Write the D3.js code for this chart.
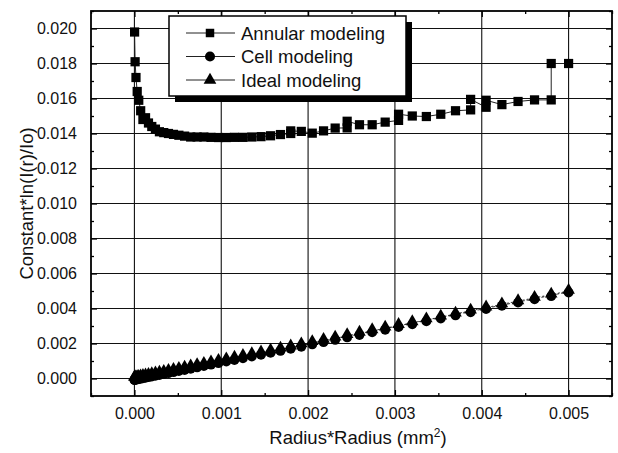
<!DOCTYPE html>
<html>
<head>
<meta charset="utf-8">
<script src="https://cdn.jsdelivr.net/npm/d3@7"></script>
<style>
body { margin: 0; background: #fff; }
svg { font-family: Arial, "Liberation Sans", sans-serif; }
</style>
</head>
<body>
<div id="chart"></div>
<script>
var width = 618
var height = 453
var margin = {left: 91, right: 6, top: 11, bottom: 57}

// radius^2 positions shared by the cell and ideal series
var radius2 = [0, 0.000002, 0.000008, 0.000018, 0.000032, 0.00005, 0.000072, 0.000098, 0.000128, 0.000162,
	0.0002, 0.000242, 0.000288, 0.000338, 0.000392, 0.00045, 0.000512, 0.000578, 0.000648, 0.000722,
	0.0008, 0.000882, 0.000968, 0.001058, 0.001152, 0.00125, 0.001352, 0.001458, 0.001568, 0.001682,
	0.0018, 0.001922, 0.002048, 0.002178, 0.002312, 0.00245, 0.002592, 0.002738, 0.002888, 0.003042,
	0.0032, 0.003362, 0.003528, 0.003698, 0.003872, 0.00405, 0.004232, 0.004418, 0.004608, 0.0048, 0.005]
var idealVals = [0, 0.000002, 0.000008, 0.000018, 0.000032, 0.00005, 0.000071, 0.000097, 0.000127, 0.00016,
	0.000198, 0.00024, 0.000285, 0.000335, 0.000388, 0.000446, 0.000507, 0.000572, 0.000641, 0.000715,
	0.000792, 0.000873, 0.000958, 0.00105, 0.00114, 0.00124, 0.00134, 0.00144, 0.00155, 0.00166,
	0.00178, 0.0019, 0.00203, 0.00216, 0.00229, 0.00243, 0.00257, 0.00271, 0.00286, 0.00301,
	0.00317, 0.00333, 0.00349, 0.00366, 0.00383, 0.00401, 0.00419, 0.00437, 0.00456, 0.00475, 0.00496]
var cellVals = [0, 0.000002, 0.000008, 0.000018, 0.000032, 0.00005, 0.000071, 0.000097, 0.000127, 0.00016,
	0.000198, 0.00024, 0.000285, 0.000335, 0.000388, 0.000446, 0.000507, 0.000572, 0.000641, 0.000715,
	0.000792, 0.000873, 0.000958, 0.00105, 0.00114, 0.00124, 0.00134, 0.00144, 0.00155, 0.00166,
	0.00178, 0.0019, 0.00203, 0.00216, 0.00229, 0.00243, 0.00257, 0.00272, 0.00287, 0.00302,
	0.00318, 0.00335, 0.00351, 0.00369, 0.00387, 0.00405, 0.00424, 0.00442, 0.00461, 0.00479, 0.005]

// annular series has repeated x where the curve steps
var annularX = [0.000002, 0.000008, 0.000018, 0.000032, 0.00005, 0.000072, 0.000098, 0.000128, 0.000162,
	0.0002, 0.000242, 0.000288, 0.000338, 0.000392, 0.00045, 0.000512, 0.000578, 0.000648, 0.000722,
	0.0008, 0.000882, 0.000968, 0.001058, 0.001152, 0.00125, 0.001352, 0.001458, 0.001568, 0.001682,
	0.0018, 0.0018, 0.001922, 0.002048, 0.002178, 0.002312, 0.00245, 0.00245, 0.002592, 0.002738, 0.002888,
	0.003042, 0.003042, 0.0032, 0.003362, 0.003528, 0.003698, 0.003872, 0.003872, 0.00405, 0.00405,
	0.004232, 0.004418, 0.004608, 0.0048, 0.0048, 0.005]
var annularY = [0.0198, 0.0181, 0.0172, 0.0164, 0.0159, 0.0153, 0.0148, 0.0149, 0.0146,
	0.0144, 0.01425, 0.0141, 0.01405, 0.014, 0.01395, 0.0139, 0.01385, 0.0138, 0.0138,
	0.0138, 0.01378, 0.01377, 0.01377, 0.01378, 0.01378, 0.0138, 0.01382, 0.01387, 0.01394,
	0.014, 0.01415, 0.01412, 0.01402, 0.01415, 0.01431, 0.01432, 0.0147, 0.0145, 0.0145, 0.01465,
	0.01475, 0.0151, 0.015, 0.01497, 0.0151, 0.0153, 0.01535, 0.01595, 0.0155, 0.0159,
	0.01565, 0.01583, 0.01592, 0.01592, 0.0180, 0.0180]

var xTicks = [0, 0.001, 0.002, 0.003, 0.004, 0.005]
var yTicks = [0, 0.002, 0.004, 0.006, 0.008, 0.010, 0.012, 0.014, 0.016, 0.018, 0.020]
var xMinor = [-0.0005, 0.0005, 0.0015, 0.0025, 0.0035, 0.0045, 0.0055]
var yMinor = [-0.001, 0.001, 0.003, 0.005, 0.007, 0.009, 0.011, 0.013, 0.015, 0.017, 0.019, 0.021]
var seriesNames = ["Annular modeling", "Cell modeling", "Ideal modeling"]

var svg = d3.select("#chart").append("svg")
	.attr("width", width)
	.attr("height", height)

var x = d3.scaleLinear().domain([-0.0005, 0.0055]).range([margin.left, width - margin.right])
var y = d3.scaleLinear().domain([-0.001, 0.021]).range([height - margin.bottom, margin.top])
var x0 = margin.left, x1 = width - margin.right
var y0 = height - margin.bottom, y1 = margin.top

// grid
svg.append("g").selectAll("line")
	.data(xTicks).enter().append("line")
	  .attr("x1", d => x(d)).attr("x2", d => x(d))
	  .attr("y1", y0).attr("y2", y1)
	  .attr("stroke", "#111").attr("stroke-width", 1.1)
svg.append("g").selectAll("line")
	.data(yTicks).enter().append("line")
	  .attr("x1", x0).attr("x2", x1)
	  .attr("y1", d => y(d)).attr("y2", d => y(d))
	  .attr("stroke", "#111").attr("stroke-width", 1.1)

// axes, ticks pointing inward
var fmt = d3.format(".3f")
svg.append("g").attr("transform", "translate(0," + y0 + ")")
	.call(d3.axisBottom(x).tickValues(xTicks).tickFormat(fmt).tickSizeInner(-6).tickSizeOuter(0).tickPadding(12))
svg.append("g").attr("transform", "translate(0," + y0 + ")")
	.call(d3.axisBottom(x).tickValues(xMinor).tickFormat("").tickSizeInner(-3).tickSizeOuter(0))
svg.append("g").attr("transform", "translate(0," + y1 + ")")
	.call(d3.axisTop(x).tickValues(xTicks).tickFormat("").tickSizeInner(-6).tickSizeOuter(0))
svg.append("g").attr("transform", "translate(0," + y1 + ")")
	.call(d3.axisTop(x).tickValues(xMinor).tickFormat("").tickSizeInner(-3).tickSizeOuter(0))
svg.append("g").attr("transform", "translate(" + x0 + ",0)")
	.call(d3.axisLeft(y).tickValues(yTicks).tickFormat(fmt).tickSizeInner(-6).tickSizeOuter(0).tickPadding(14))
svg.append("g").attr("transform", "translate(" + x0 + ",0)")
	.call(d3.axisLeft(y).tickValues(yMinor).tickFormat("").tickSizeInner(-3).tickSizeOuter(0))
svg.append("g").attr("transform", "translate(" + x1 + ",0)")
	.call(d3.axisRight(y).tickValues(yTicks).tickFormat("").tickSizeInner(-6).tickSizeOuter(0))
svg.append("g").attr("transform", "translate(" + x1 + ",0)")
	.call(d3.axisRight(y).tickValues(yMinor).tickFormat("").tickSizeInner(-3).tickSizeOuter(0))
svg.selectAll(".domain").remove()
svg.selectAll(".tick line").attr("stroke", "#000").attr("stroke-width", 1.3)
svg.selectAll(".tick text").attr("font-size", 16).attr("fill", "#111")
	.attr("font-family", "Arial, 'Liberation Sans', sans-serif")

// frame
svg.append("rect")
	.attr("x", x0).attr("y", y1)
	.attr("width", x1 - x0).attr("height", y0 - y1)
	.attr("fill", "none").attr("stroke", "#000").attr("stroke-width", 1.8)

// axis titles
svg.append("text")
	.attr("x", 358).attr("y", 444)
	.attr("text-anchor", "middle").attr("font-size", 18.5).attr("fill", "#111")
	.text("Radius*Radius (mm")
	.append("tspan").attr("dy", -7).attr("font-size", 12).text("2")
	.select(function(){ return this.parentNode })
	.append("tspan").attr("dy", 7).text(")")
svg.append("text")
	.attr("transform", "translate(33," + ((y0 + y1) / 2) + ") rotate(-90)")
	.attr("text-anchor", "middle").attr("font-size", 18.5).attr("fill", "#111")
	.text("Constant*ln(I(r)/Io)")

// series
var line = d3.line().x(d => x(d[0])).y(d => y(d[1]))
var annular = annularX.map((v, i) => [v, annularY[i]])
var cell = radius2.map((v, i) => [v, cellVals[i]])
var ideal = radius2.map((v, i) => [v, idealVals[i]])

svg.append("path").attr("d", line(annular))
	.attr("fill", "none").attr("stroke", "#222").attr("stroke-width", 1)
svg.append("path").attr("d", line(cell))
	.attr("fill", "none").attr("stroke", "#222").attr("stroke-width", 0.9).attr("stroke-dasharray", "2,2")
svg.append("path").attr("d", line(ideal))
	.attr("fill", "none").attr("stroke", "#222").attr("stroke-width", 0.9).attr("stroke-dasharray", "3,2")

var sq = d3.symbol().type(d3.symbolSquare).size(85)
var ci = d3.symbol().type(d3.symbolCircle).size(75)
var tr = d3.symbol().type(d3.symbolTriangle).size(68)

svg.append("g").selectAll("path")
	.data(annular).enter().append("path")
	  .attr("d", sq)
	  .attr("transform", d => "translate(" + x(d[0]) + "," + y(d[1]) + ")")
	  .attr("fill", "#000")
svg.append("g").selectAll("path")
	.data(cell).enter().append("path")
	  .attr("d", ci)
	  .attr("transform", d => "translate(" + x(d[0]) + "," + (y(d[1]) + 1.5) + ")")
	  .attr("fill", "#000")
svg.append("g").selectAll("path")
	.data(ideal).enter().append("path")
	  .attr("d", tr)
	  .attr("transform", d => "translate(" + x(d[0]) + "," + (y(d[1]) - 1.5) + ")")
	  .attr("fill", "#000")

// legend with drop shadow
var lg = svg.append("g")
lg.append("rect").attr("x", 175).attr("y", 22).attr("width", 237).attr("height", 80).attr("fill", "#000")
lg.append("rect").attr("x", 169).attr("y", 16).attr("width", 237).attr("height", 80)
	.attr("fill", "#fff").attr("stroke", "#000").attr("stroke-width", 1.5)
var legSyms = [d3.symbol().type(d3.symbolSquare).size(72), d3.symbol().type(d3.symbolCircle).size(80), d3.symbol().type(d3.symbolTriangle).size(70)]
var rows = lg.selectAll("g.row")
	.data(seriesNames).enter().append("g")
	  .classed("row", true)
	  .attr("transform", (d, i) => "translate(0," + (33 + i * 23.5) + ")")
rows.append("line").attr("x1", 186).attr("x2", 235).attr("stroke", "#222").attr("stroke-width", 1)
rows.append("path").attr("d", (d, i) => legSyms[i]()).attr("transform", "translate(210,0)").attr("fill", "#000")
rows.append("text").attr("x", 241).attr("y", 6.5).attr("font-size", 18.5).attr("fill", "#111").text(d => d)
</script>
</body>
</html>
